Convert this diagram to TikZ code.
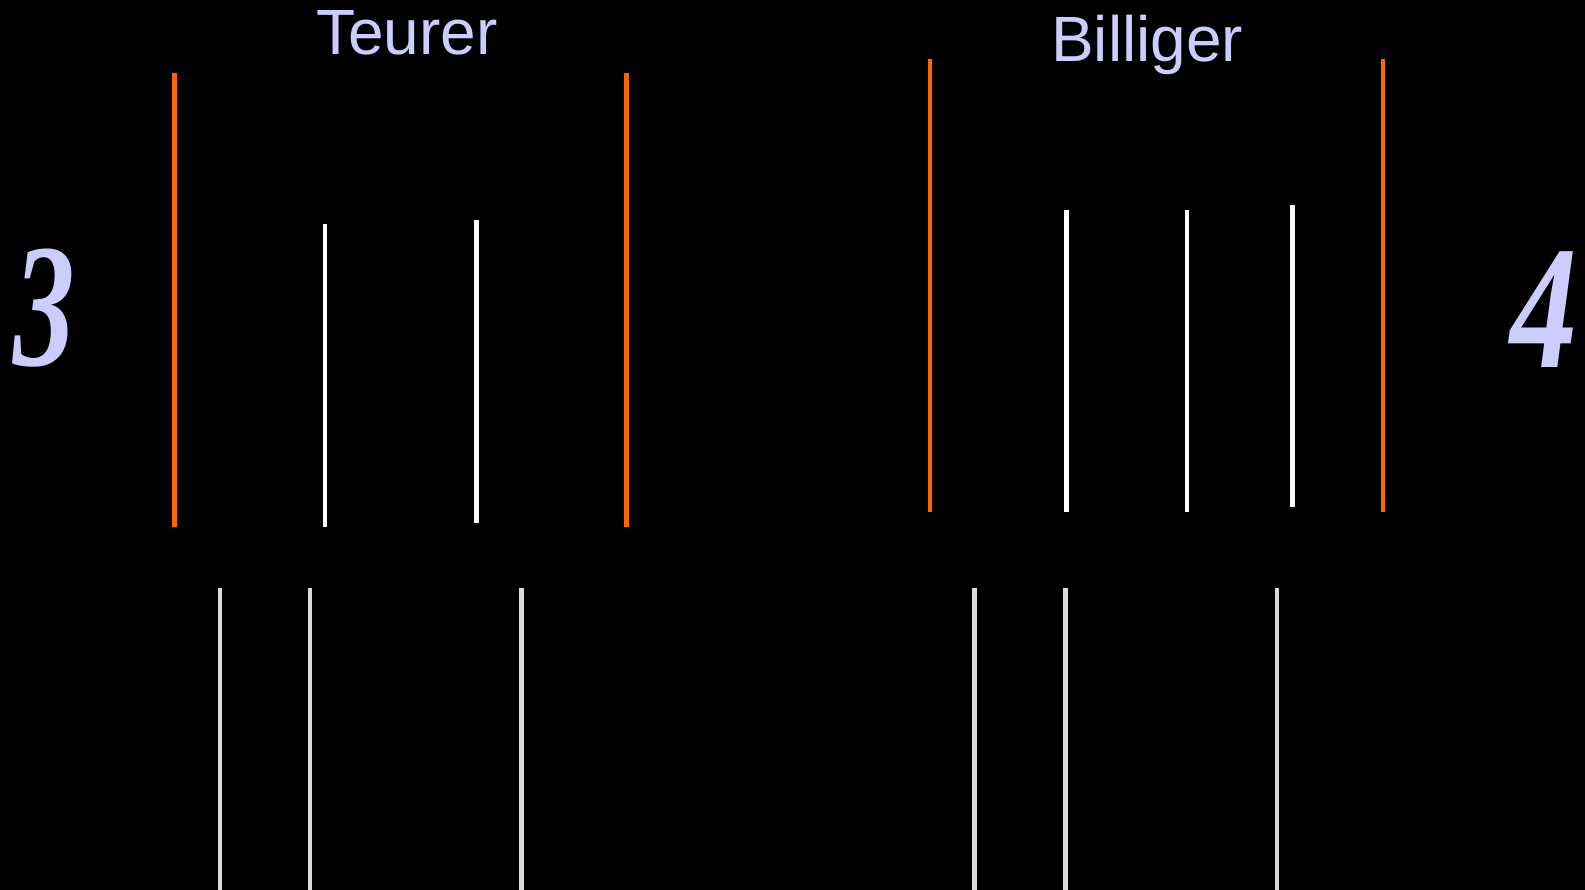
\documentclass[tikz,border=0pt]{standalone}
\usepackage{fontspec}
\setmainfont{Liberation Sans}
\newfontfamily\digitfont{Liberation Serif}
\definecolor{barorange}{HTML}{FF6600}
\definecolor{labelblue}{HTML}{CCCCFF}
\definecolor{stemgray}{HTML}{DADADA}
\begin{document}
\begin{tikzpicture}[x=1pt,y=-1pt,
  bound/.style={draw=barorange,line width=4.6pt},
  item/.style={draw=white,line width=4.4pt},
  stem/.style={draw=stemgray,line width=4.4pt},
  heading/.style={text=labelblue,inner sep=0pt,font=\fontsize{64}{70}\selectfont},
  bignum/.style={text=labelblue,inner sep=0pt,font=\digitfont\fontsize{176}{180}\selectfont\bfseries\itshape}]
\fill[black] (0,0) rectangle (1585,890);
\useasboundingbox (0,0) rectangle (1585,890);

% headings
\node[heading,anchor=base west] (teurer) at (316,55) {Teurer};
\node[heading,anchor=base west] (billiger) at (1051,61.7) {Billiger};

% group numbers
\node[bignum,anchor=base west] (three) at (13,366) {\scalebox{0.7}[1]{3}};
\node[bignum,anchor=base east] (four) at (1578,368) {\scalebox{0.76}[1]{4}};

% left group: bounds and items
\coordinate (tl1) at (174.3,73.3);  \coordinate (bl1) at (174.3,526.7);
\coordinate (tl2) at (626.7,73.3);  \coordinate (bl2) at (626.7,526.7);
\coordinate (ti1) at (325,224.3);   \coordinate (bi1) at (325,526.7);
\coordinate (ti2) at (476.3,220.3); \coordinate (bi2) at (476.3,522.6);
\draw[bound] (tl1) -- (bl1);
\draw[bound] (tl2) -- (bl2);
\draw[item] (ti1) -- (bi1);
\draw[item] (ti2) -- (bi2);

% right group: bounds and items
\coordinate (tr1) at (930,58.6);    \coordinate (br1) at (930,511.5);
\coordinate (tr2) at (1382.8,58.6); \coordinate (br2) at (1382.8,511.5);
\coordinate (tj1) at (1066.3,210);  \coordinate (bj1) at (1066.3,511.5);
\coordinate (tj2) at (1187,210);    \coordinate (bj2) at (1187,511.5);
\coordinate (tj3) at (1292.5,205.5);\coordinate (bj3) at (1292.5,507.4);
\draw[bound] (tr1) -- (br1);
\draw[bound] (tr2) -- (br2);
\draw[item] (tj1) -- (bj1);
\draw[item] (tj2) -- (bj2);
\draw[item] (tj3) -- (bj3);

% lower stems
\foreach \x [count=\i] in {219.7,310,521.6,974.4,1065.4,1276.7}{
  \coordinate (st\i) at (\x,587.5);
  \coordinate (sb\i) at (\x,890);
  \draw[stem] (st\i) -- (sb\i);
}
\end{tikzpicture}
\end{document}
